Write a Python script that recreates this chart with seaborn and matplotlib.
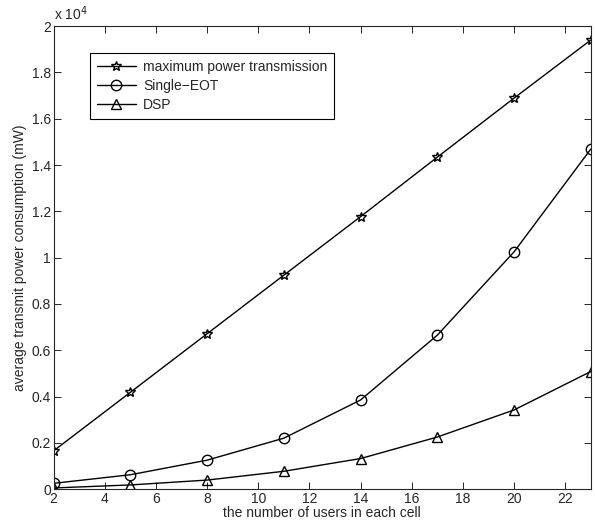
import numpy as np
import pandas as pd
import seaborn as sns
import matplotlib
matplotlib.use("Agg")
import matplotlib.pyplot as plt
from matplotlib.ticker import FuncFormatter

sns.set_style("ticks")
plt.rcParams['font.family'] = ['Liberation Sans', 'DejaVu Sans']

# data
users = [2, 5, 8, 11, 14, 17, 20, 23]
max_power = [1650, 4180, 6710, 9240, 11770, 14340, 16890, 19400]
single_eot = [250, 620, 1250, 2200, 3850, 6650, 10250, 14690]
dsp = [50, 180, 390, 770, 1320, 2250, 3420, 5080]
series_names = ["maximum power transmission", "Single\u2212EOT", "DSP"]

df = pd.concat([
    pd.DataFrame({"users": users, "power": max_power, "scheme": series_names[0]}),
    pd.DataFrame({"users": users, "power": single_eot, "scheme": series_names[1]}),
    pd.DataFrame({"users": users, "power": dsp, "scheme": series_names[2]}),
])

fig = plt.figure(figsize=(5.95, 5.22), dpi=100)
ax = fig.add_axes([0.09, 0.063, 0.903, 0.887])

sns.lineplot(data=df, x="users", y="power", hue="scheme", style="scheme",
             palette=["black"] * 3, markers={series_names[0]: "*", series_names[1]: "o", series_names[2]: "^"},
             dashes=False, linewidth=1.0, markersize=7.5, markerfacecolor="none",
             markeredgecolor="black", markeredgewidth=1.0, ax=ax)

ax.set_xlim(2, 23)
ax.set_ylim(0, 20000)
ax.set_xticks(range(2, 23, 2))
ax.set_yticks(np.arange(0, 20001, 2000))
ax.yaxis.set_major_formatter(FuncFormatter(lambda v, p: f"{v/1e4:g}"))
ax.tick_params(direction="in", top=True, right=True, labelsize=10, length=5, width=0.7, pad=2)
for s in ax.spines.values():
    s.set_linewidth(0.8)
    s.set_visible(True)

ax.set_xlabel("the number of users in each cell", fontsize=10, labelpad=0)
ax.set_ylabel("average transmit power consumption (mW)", fontsize=10, labelpad=3)
ax.text(0.0, 1.006, "x 10$^4$", transform=ax.transAxes, fontsize=10, ha="left", va="bottom")

leg = ax.legend(loc="upper left", bbox_to_anchor=(0.068, 0.942), fontsize=10,
                frameon=True, fancybox=False, edgecolor="black", framealpha=1,
                handlelength=2.8, handletextpad=0.5, borderpad=0.5, labelspacing=0.35, borderaxespad=0)
leg.get_frame().set_linewidth(0.8)
for h in leg.legend_handles:
    h.set_markerfacecolor("none")
    h.set_markeredgecolor("black")

fig.savefig("out.png", dpi=100)
